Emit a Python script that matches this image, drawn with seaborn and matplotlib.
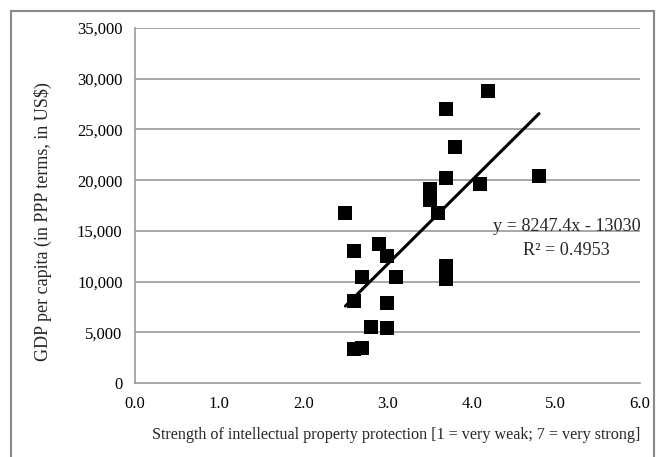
import numpy as np
import pandas as pd
import matplotlib
matplotlib.use('Agg')
import matplotlib.pyplot as plt
import seaborn as sns
from matplotlib.ticker import FuncFormatter, MultipleLocator
from matplotlib.patches import Rectangle

# data
ip_strength = [2.5, 2.6, 2.6, 2.6, 2.7, 2.7, 2.8, 2.9, 3.0, 3.0, 3.0, 3.1,
               3.5, 3.5, 3.6, 3.7, 3.7, 3.7, 3.7, 3.8, 4.1, 4.2, 4.8]
gdp_ppp = [16770, 13000, 8090, 3350, 10450, 3450, 5520, 13700, 12520, 7890, 5420, 10450,
           19100, 18000, 16770, 27020, 20220, 11540, 10250, 23270, 19630, 28800, 20400]

# trendline as printed on the chart
slope = 8247.4
intercept = -13030
eq_text = 'y = 8247.4x - 13030'
r2_text = 'R² = 0.4953'

df = pd.DataFrame({'ip': ip_strength, 'gdp': gdp_ppp})

sns.set_style('white')
plt.rcParams['font.family'] = ['Liberation Serif', 'DejaVu Serif']

fig = plt.figure(figsize=(6.56, 4.57), dpi=100)
ax = fig.add_axes([0.2058, 0.1619, 0.7698, 0.7768])

grey = '#9a9a9a'
for yy in range(5000, 35001, 5000):
    ax.axhline(yy, color=grey, lw=1.2, zorder=0)

sns.scatterplot(data=df, x='ip', y='gdp', marker='s', s=95, color='black',
                edgecolor='black', linewidth=0, ax=ax, zorder=3)

xl = np.array([df['ip'].min(), df['ip'].max()])
sns.lineplot(x=xl, y=slope * xl + intercept, color='black', lw=2.2, ax=ax, zorder=4)

ax.set_xlim(0, 6)
ax.set_ylim(0, 35000)
ax.xaxis.set_major_locator(MultipleLocator(1))
ax.yaxis.set_major_locator(MultipleLocator(5000))
ax.xaxis.set_major_formatter(FuncFormatter(lambda v, p: f'{v:.1f}'))
ax.yaxis.set_major_formatter(FuncFormatter(lambda v, p: f'{int(v):,}'))

for s in ['top', 'right']:
    ax.spines[s].set_visible(False)
for s in ['left', 'bottom']:
    ax.spines[s].set_color(grey)
    ax.spines[s].set_linewidth(1.2)
ax.tick_params(axis='both', direction='out', length=4, width=1, color=grey,
               labelsize=12, labelcolor='black', pad=5)

ax.set_xlabel('Strength of intellectual property protection [1 = very weak; 7 = very strong]',
              fontsize=11.6)
ax.xaxis.set_label_coords(0.517, -0.146)
ax.xaxis.label.set_va('center')
ax.set_ylabel('GDP per capita (in PPP terms, in US$)', fontsize=13)
ax.yaxis.set_label_coords(-0.182, 0.456)
ax.yaxis.label.set_va('center')

ax.text(5.13, 15480, eq_text, ha='center', va='center', fontsize=13.1, zorder=5)
ax.text(5.13, 13110, r2_text, ha='center', va='center', fontsize=13.1, zorder=5)

fig.patches.append(Rectangle((11 / 656, -0.02), 643 / 656, 1 - 11 / 457 + 0.02,
                             transform=fig.transFigure, fill=False,
                             edgecolor='#8a8a8a', lw=1.5))

fig.savefig('out.png', dpi=100)
